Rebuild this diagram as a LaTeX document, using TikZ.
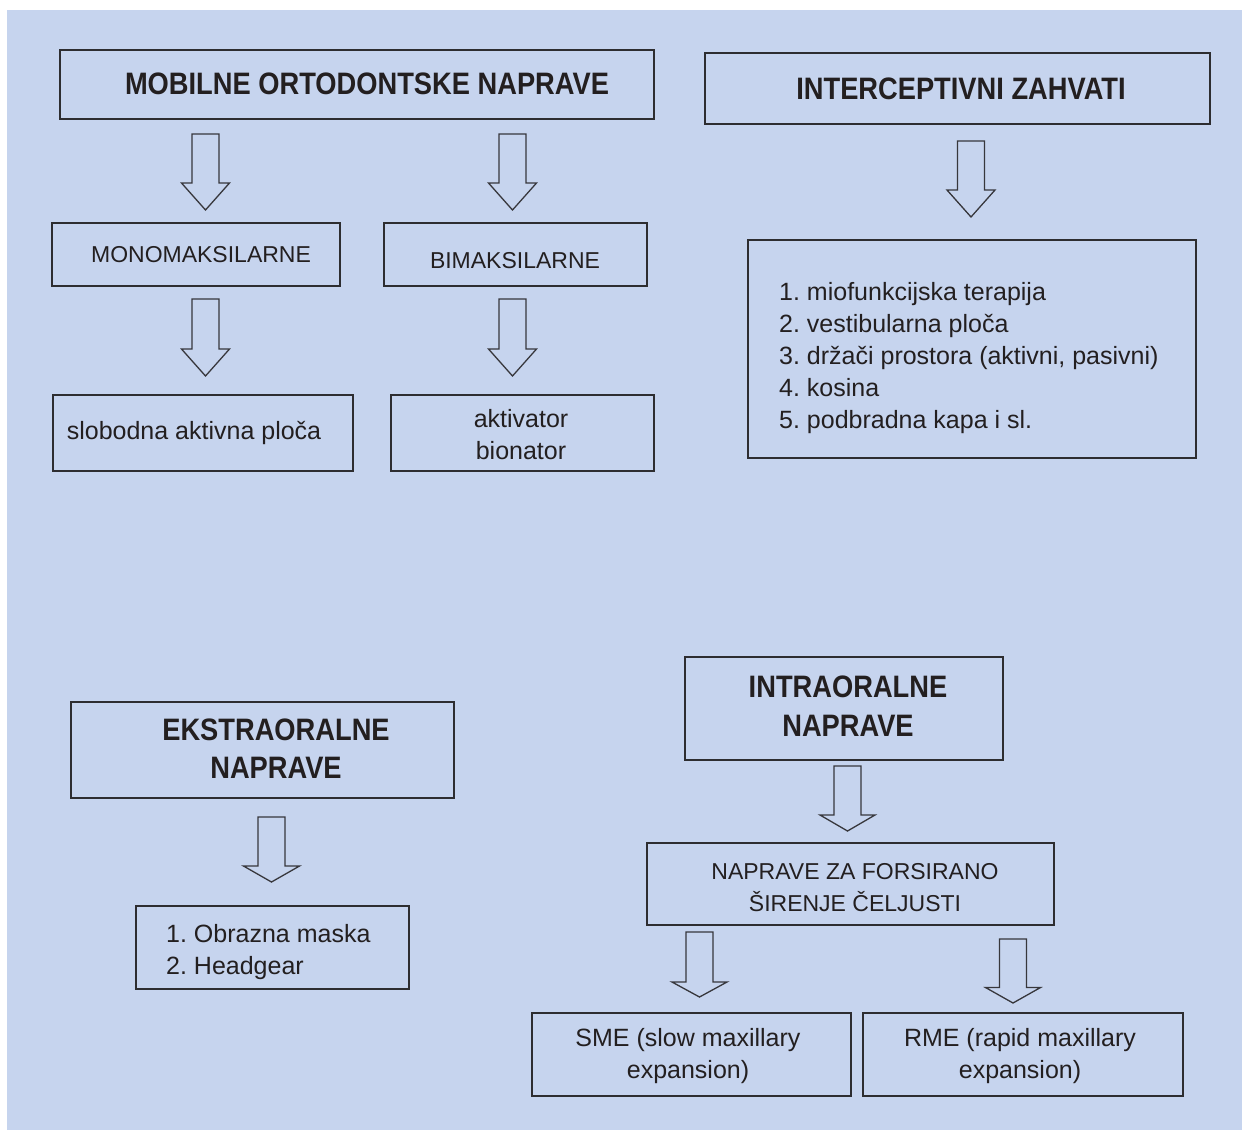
\documentclass[tikz,border=0pt]{standalone}
\usepackage{fontspec}
\setmainfont{Liberation Sans}
\newfontfamily\headfont{Liberation Sans}[FakeStretch=0.88]
\usetikzlibrary{calc}
\frenchspacing
\definecolor{bgblue}{RGB}{198,212,238}
\definecolor{ink}{RGB}{35,31,32}
\definecolor{edge}{RGB}{45,45,48}
\definecolor{arrgray}{RGB}{55,55,60}
\tikzset{
  box/.style={draw=edge, line width=1.4pt, inner sep=0pt, outer sep=0pt},
  headtxt/.style={text=ink, align=center, inner sep=0pt, font=\headfont\bfseries\fontsize{31}{38.5}\selectfont},
  captxt/.style={text=ink, align=center, inner sep=0pt, font=\fontsize{23}{32}\selectfont},
  lowtxt/.style={text=ink, align=center, inner sep=0pt, font=\fontsize{25}{32}\selectfont},
  listtxt/.style={text=ink, align=left, inner sep=0pt, font=\fontsize{25}{32}\selectfont},
  blockarr/.style={draw=arrgray, line width=1.3pt, line join=miter}
}
% block arrow from coordinate #1 (top of shaft) to coordinate #2 (tip)
% #3 head length, #4 head half width
\newcommand\blockarrow[4]{%
  \draw[blockarr] ($(#1)+(-13.5,0)$) -- ($(#1)+(13.5,0)$) -- ($(#2)+(13.5,-#3)$)
    -- ($(#2)+(#4,-#3)$) -- (#2) -- ($(#2)+(-#4,-#3)$) -- ($(#2)+(-13.5,-#3)$) -- cycle;}
\begin{document}
\begin{tikzpicture}[x=1pt,y=-1pt]
\useasboundingbox (0,0) rectangle (1242,1130);
\fill[bgblue] (7,10) rectangle (1242,1130);

% boxes
\node[box, minimum width=594pt, minimum height=69pt] (mob) at (357,84.5) {};
\node[headtxt] (mob-t) at (367,84) {MOBILNE ORTODONTSKE NAPRAVE};

\node[box, minimum width=505pt, minimum height=71pt] (int) at (957.5,88.5) {};
\node[headtxt] (int-t) at (961,89) {INTERCEPTIVNI ZAHVATI};

\node[box, minimum width=288pt, minimum height=63pt] (mono) at (196,254.5) {};
\node[captxt] (mono-t) at (201,255) {MONOMAKSILARNE};

\node[box, minimum width=263pt, minimum height=63pt] (bimak) at (515.5,254.5) {};
\node[captxt] (bimak-t) at (515,261) {BIMAKSILARNE};

\node[box, minimum width=300pt, minimum height=76pt] (slob) at (203,433) {};
\node[lowtxt] (slob-t) at (194,433) {slobodna aktivna ploča};

\node[box, minimum width=263pt, minimum height=76pt] (akt) at (522.5,433) {};
\node[lowtxt] (akt-t) at (521,435) {aktivator\\bionator};

\node[box, minimum width=448pt, minimum height=218pt] (lst1) at (972,349) {};
\node[listtxt, anchor=west] (lst1-t) at (779,358) {1. miofunkcijska terapija\\2. vestibularna ploča\\3. držači prostora (aktivni, pasivni)\\4. kosina\\5. podbradna kapa i sl.};

\node[box, minimum width=383pt, minimum height=96pt] (ekst) at (262.5,750) {};
\node[headtxt] (ekst-t) at (276,748.5) {EKSTRAORALNE\\NAPRAVE};

\node[box, minimum width=273pt, minimum height=83pt] (lst2) at (272.5,947.5) {};
\node[listtxt, anchor=west] (lst2-t) at (166,952) {1. Obrazna maska\\2. Headgear};

\node[box, minimum width=318pt, minimum height=103pt] (intra) at (844,708.5) {};
\node[headtxt] (intra-t) at (848,706) {INTRAORALNE\\NAPRAVE};

\node[box, minimum width=407pt, minimum height=82pt] (forc) at (850.5,884) {};
\node[captxt] (forc-t) at (855,888) {NAPRAVE ZA FORSIRANO\\ŠIRENJE ČELJUSTI};

\node[box, minimum width=319pt, minimum height=83pt] (sme) at (691.5,1054.5) {};
\node[lowtxt] (sme-t) at (688,1056) {SME (slow maxillary\\expansion)};

\node[box, minimum width=320pt, minimum height=83pt] (rme) at (1023,1054.5) {};
\node[lowtxt] (rme-t) at (1020,1056) {RME (rapid maxillary\\expansion)};

% arrow anchor coordinates
\coordinate (a1s) at (205.5,134);  \coordinate (a1e) at (205.5,210);
\coordinate (a2s) at (512.5,134);  \coordinate (a2e) at (512.5,210);
\coordinate (a3s) at (971,141);    \coordinate (a3e) at (971,217);
\coordinate (a4s) at (205.5,299);  \coordinate (a4e) at (205.5,376);
\coordinate (a5s) at (512.5,299);  \coordinate (a5e) at (512.5,376);
\coordinate (a6s) at (271.5,817);  \coordinate (a6e) at (271.5,882);
\coordinate (a7s) at (847.5,766);  \coordinate (a7e) at (847.5,831);
\coordinate (a8s) at (699.5,932);  \coordinate (a8e) at (699.5,997);
\coordinate (a9s) at (1013,939);   \coordinate (a9e) at (1013,1003);

\blockarrow{a1s}{a1e}{27}{24}
\blockarrow{a2s}{a2e}{27}{24}
\blockarrow{a3s}{a3e}{27}{24}
\blockarrow{a4s}{a4e}{27}{24}
\blockarrow{a5s}{a5e}{27}{24}
\blockarrow{a6s}{a6e}{16}{28}
\blockarrow{a7s}{a7e}{16}{27.5}
\blockarrow{a8s}{a8e}{15}{27.5}
\blockarrow{a9s}{a9e}{15.5}{27.5}
\end{tikzpicture}
\end{document}
